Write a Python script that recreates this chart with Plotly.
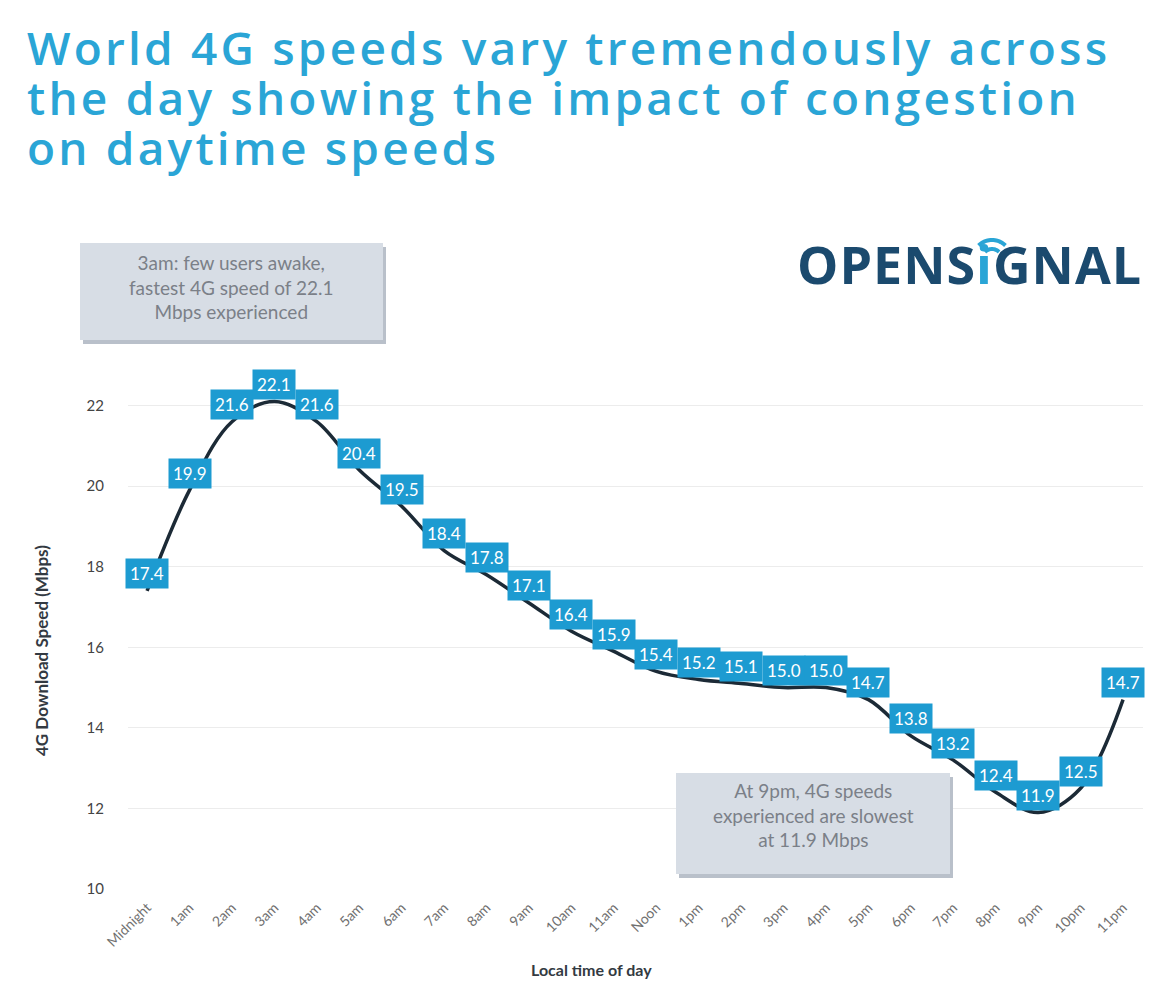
import math
import plotly.graph_objects as go

hours = ["Midnight", "1am", "2am", "3am", "4am", "5am", "6am", "7am", "8am", "9am",
         "10am", "11am", "Noon", "1pm", "2pm", "3pm", "4pm", "5pm", "6pm", "7pm",
         "8pm", "9pm", "10pm", "11pm"]
speeds = [17.4, 19.9, 21.6, 22.1, 21.6, 20.4, 19.5, 18.4, 17.8, 17.1, 16.4, 15.9,
          15.4, 15.2, 15.1, 15.0, 15.0, 14.7, 13.8, 13.2, 12.4, 11.9, 12.5, 14.7]
y_ticks = [10, 12, 14, 16, 18, 20, 22, 24]
y_ticktext = ["10", "12", "14", "16", "18", "20", "22", ""]

title_lines = ["World 4G speeds vary tremendously across",
               "the day showing the impact of congestion",
               "on daytime speeds"]
note_peak = "3am: few users awake,<br>fastest 4G speed of 22.1<br>Mbps experienced"
note_low = "At 9pm, 4G speeds<br>experienced are slowest<br>at 11.9 Mbps"

W_FIG, H_FIG = 1157, 1000
L, R, T, B = 120, 1135, 317, 881


def px(x):
    return (x - L) / (R - L)


def py(y):
    return (B - y) / (B - T)


x_idx = list(range(len(hours)))

fig = go.Figure()
fig.add_trace(go.Scatter(
    x=x_idx, y=speeds, mode="lines",
    line=dict(color="#1c2a36", width=3.5, shape="spline", smoothing=1.0),
    hoverinfo="skip", showlegend=False,
))

annotations = []
# value labels
for i, v in zip(x_idx, speeds):
    annotations.append(dict(
        x=i, y=v, xref="x", yref="y", text=f"{v:.1f}", showarrow=False,
        yshift=17, bgcolor="#1d9bd1", borderpad=4,
        font=dict(family="Lato", size=17, color="white"),
    ))

# title (single block; line pitch from the base size, glyphs from the span size)
title_text = "<br>".join(
    f"<span style='font-size:46px;letter-spacing:3.2px'>{t}</span>" for t in title_lines)
annotations.append(dict(
    x=px(17), y=py(6), xref="paper", yref="paper",
    xanchor="left", yanchor="top", align="left", text=title_text, showarrow=False,
    font=dict(family="Open Sans", size=38.5, color="#2aa5d6", weight=600),
))

# logo
annotations.append(dict(
    x=px(1136), y=py(255), xref="paper", yref="paper", xanchor="right", yanchor="middle",
    text="<span style='letter-spacing:1px'>OPENS<span style='color:#2aa5d6'>i</span>GNAL</span>",
    showarrow=False,
    font=dict(family="Open Sans", size=52, color="#1b4a6e", weight=700),
))

# note boxes text
annotations.append(dict(
    x=px(223), y=py(279), xref="paper", yref="paper", xanchor="center", yanchor="middle",
    text=note_peak, showarrow=False,
    font=dict(family="Lato", size=19, color="#7b8088"),
))
annotations.append(dict(
    x=px(805), y=py(807), xref="paper", yref="paper", xanchor="center", yanchor="middle",
    text=note_low, showarrow=False,
    font=dict(family="Lato", size=19, color="#7b8088"),
))

# axis titles
annotations.append(dict(
    x=px(33), y=py(643), xref="paper", yref="paper", xanchor="center", yanchor="middle",
    text="4G Download Speed (Mbps)", textangle=-90, showarrow=False,
    font=dict(family="Lato", size=17, color="#333a42", weight=700),
))
annotations.append(dict(
    x=px(583), y=py(961), xref="paper", yref="paper", xanchor="center", yanchor="middle",
    text="Local time of day", showarrow=False,
    font=dict(family="Lato", size=16, color="#333a42", weight=700),
))

shapes = []
# note boxes with shadow
for (x0, y0, x1, y1) in [(72, 235, 375, 332), (668, 765, 942, 866)]:
    shapes.append(dict(type="rect", xref="paper", yref="paper",
                       x0=px(x0 + 3), x1=px(x1 + 3), y0=py(y0 + 4), y1=py(y1 + 4),
                       fillcolor="#b9c0ca", line=dict(width=0), layer="above"))
    shapes.append(dict(type="rect", xref="paper", yref="paper",
                       x0=px(x0), x1=px(x1), y0=py(y0), y1=py(y1),
                       fillcolor="#d7dde5", line=dict(width=0), layer="above"))

# logo signal arcs
cx, cy = 984, 251
for r in (10, 19):
    pts = []
    for s in range(0, 21):
        a = math.radians(135 - 90 * s / 20)
        pts.append((px(cx + r * math.cos(a)), py(cy - r * math.sin(a))))
    path = "M " + " L ".join(f"{a:.5f},{b:.5f}" for a, b in pts)
    shapes.append(dict(type="path", xref="paper", yref="paper", path=path,
                       line=dict(color="#2aa5d6", width=4), layer="above"))

fig.update_layout(
    width=W_FIG, height=H_FIG,
    margin=dict(l=L, r=W_FIG - R, t=T, b=H_FIG - B, autoexpand=False),
    paper_bgcolor="white", plot_bgcolor="white",
    showlegend=False,
    annotations=annotations, shapes=shapes,
    xaxis=dict(
        range=[-0.45, 23.47], tickmode="array", tickvals=x_idx, ticktext=hours,
        tickangle=-45, showgrid=False, zeroline=False, showline=False,
        tickfont=dict(family="Lato", size=14, color="#707070"),
        ticks="outside", ticklen=4, tickcolor="rgba(0,0,0,0)",
    ),
    yaxis=dict(
        range=[10, 24], tickmode="array", tickvals=y_ticks, ticktext=y_ticktext,
        showgrid=True, gridcolor="#ececec", gridwidth=1, zeroline=False, showline=False,
        tickfont=dict(family="Lato", size=15, color="#444444"),
        ticks="outside", ticklen=20, tickcolor="rgba(0,0,0,0)",
    ),
)

fig.write_html("out.html")
